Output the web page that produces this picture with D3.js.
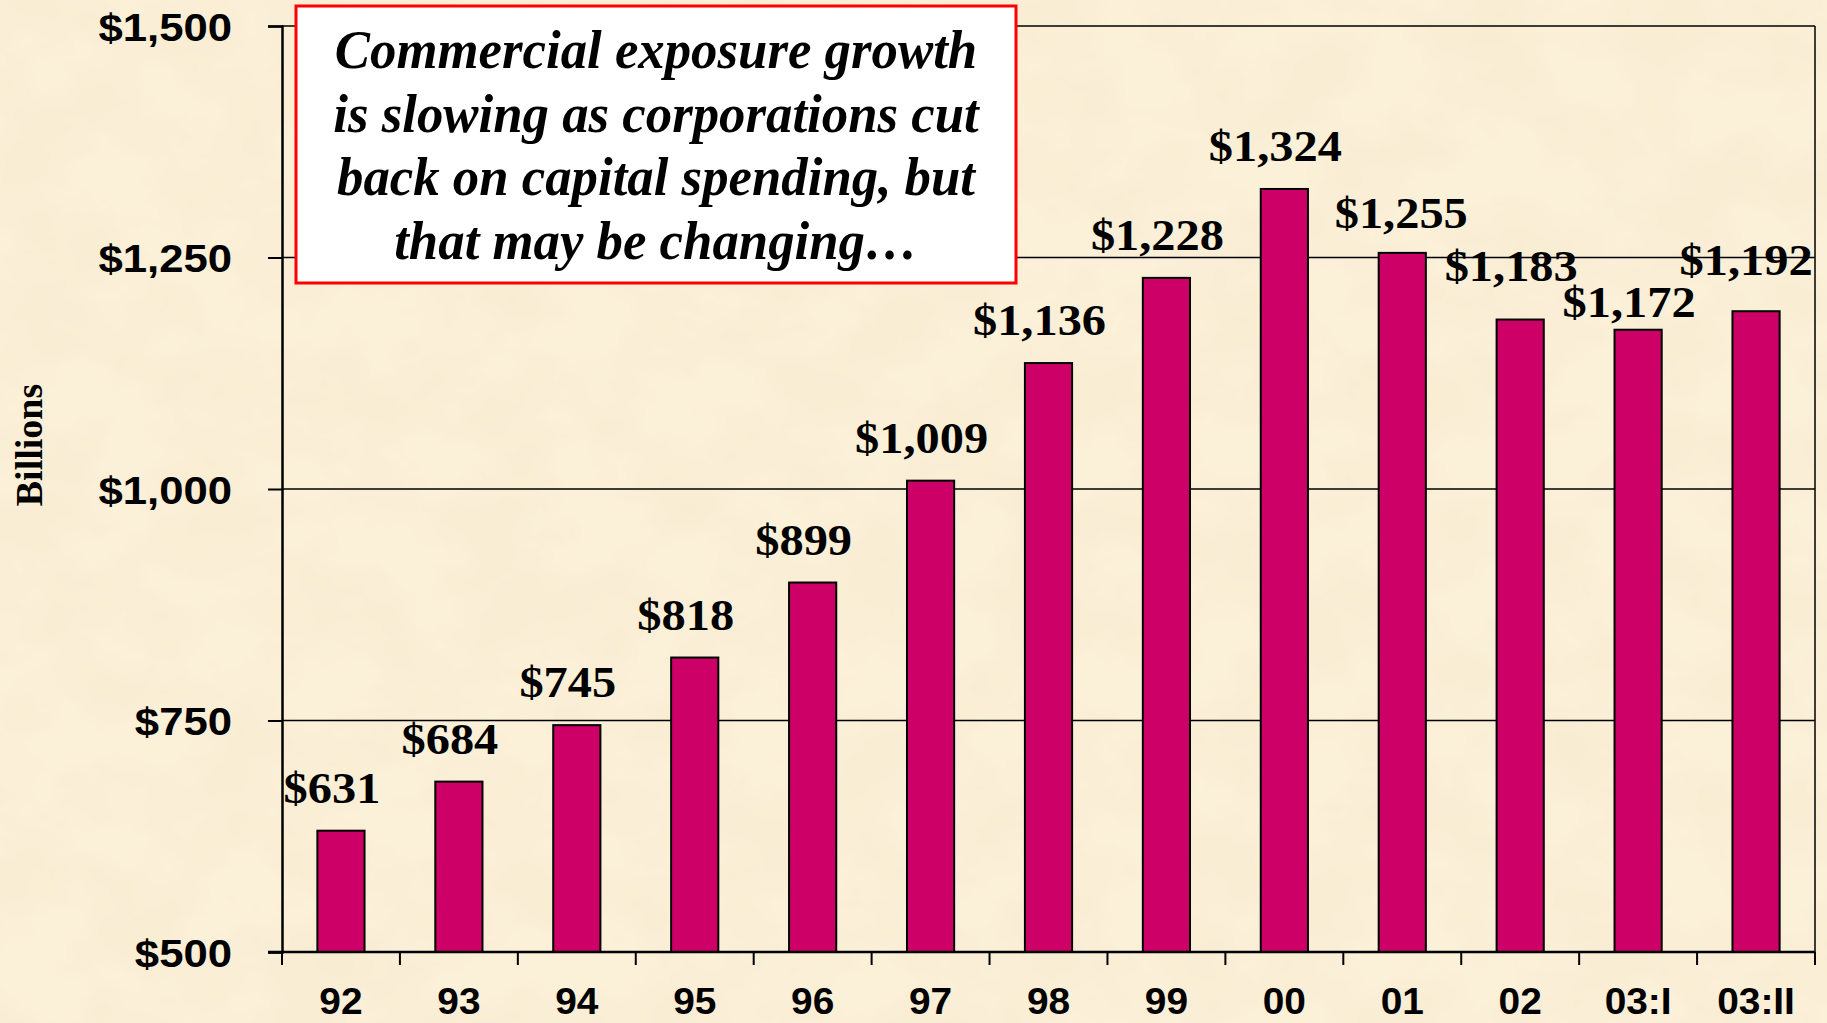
<!DOCTYPE html>
<html>
<head>
<meta charset="utf-8">
<script src="https://cdn.jsdelivr.net/npm/d3@7/dist/d3.min.js"></script>
<style>
  html, body { margin: 0; padding: 0; background: #fbf0d8; }
  svg { display: block; }
</style>
</head>
<body>
<svg id="chart"></svg>
<script>
(function(d3) {
  'use strict';

  // chart values
  var categories = ['92', '93', '94', '95', '96', '97', '98', '99', '00', '01', '02', '03:I', '03:II'];
  var exposure = [631, 684, 745, 818, 899, 1009, 1136, 1228, 1324, 1255, 1183, 1172, 1192];
  var yTicks = [500, 750, 1000, 1250, 1500];
  var yTitle = 'Billions';
  var noteLines = [
    'Commercial exposure growth',
    'is slowing as corporations cut',
    'back on capital spending, but',
    'that may be changing\u2026'
  ];

  var width = 1827, height = 1023;
  var margin = {top : 26, right : 12, bottom : 71, left : 282};
  var sans = '"Liberation Sans", Arial, sans-serif',
      serif = '"Liberation Serif", "Times New Roman", serif';

  // the data labels were dragged around by hand on the original slide
  var defaultNudge = [-9, 28];
  var labelNudge = {'01' : [-1, 25], '02' : [-9, 39], '03:I' : [-9, 13], '03:II' : [-10, 36]};

  var svg = d3.select('#chart').attr('width', width).attr('height', height);

  function drawBackground() {
    var defs = svg.append('defs');
    var f = defs.append('filter').attr('id', 'parchment')
        .attr('x', 0).attr('y', 0).attr('width', '100%').attr('height', '100%');
    f.append('feTurbulence').attr('type', 'fractalNoise')
        .attr('baseFrequency', '0.011 0.014').attr('numOctaves', 4).attr('seed', 7);
    f.append('feColorMatrix').attr('type', 'matrix')
        .attr('values', '0 0 0 0 0.86  0 0 0 0 0.76  0 0 0 0 0.52  0.45 0 0 0 -0.16');

    svg.append('rect').attr('width', width).attr('height', height).attr('fill', '#fbf0d8');
    svg.append('rect').attr('width', width).attr('height', height).attr('filter', 'url(#parchment)');
  }

  function stretched(sel, x, y, sx) {
    return sel.attr('transform', 'translate(' + x + ',' + y + ') scale(' + sx + ',1)');
  }

  function drawChart() {
    var x = d3.scaleBand().domain(categories)
        .range([margin.left, width - margin.right])
        .paddingInner(0.6).paddingOuter(0.3);
    var y = d3.scaleLinear().domain([500, 1500])
        .range([height - margin.bottom, margin.top]);
    var step = x.step(), x0 = margin.left, x1 = width - margin.right;

    // gridlines
    svg.append('g').selectAll('line')
        .data(yTicks.slice(1))
        .join('line')
        .attr('x1', x0).attr('x2', x1)
        .attr('y1', function(d) { return y(d); })
        .attr('y2', function(d) { return y(d); })
        .attr('stroke', '#000').attr('stroke-width', 1.5);

    // right edge of the plot area
    svg.append('line')
        .attr('x1', x1).attr('x2', x1)
        .attr('y1', y(1500)).attr('y2', y(500))
        .attr('stroke', '#000').attr('stroke-width', 1.5);

    // bars
    svg.append('g').selectAll('rect')
        .data(exposure)
        .join('rect')
        .attr('x', function(d, i) { return x(categories[i]); })
        .attr('y', function(d) { return y(d); })
        .attr('width', x.bandwidth())
        .attr('height', function(d) { return y(500) - y(d); })
        .attr('fill', '#cc0066')
        .attr('stroke', '#000').attr('stroke-width', 2);

    // y axis
    var yAxis = svg.append('g')
        .attr('transform', 'translate(' + x0 + ',0)')
        .call(d3.axisLeft(y).tickValues(yTicks).tickSize(14)
            .tickFormat(function(d) { return '$' + d3.format(',')(d); }));
    yAxis.select('.domain').attr('stroke-width', 2.5);
    yAxis.selectAll('.tick line').attr('stroke-width', 2);
    yAxis.selectAll('.tick text').each(function() {
      var t = d3.select(this);
      t.attr('x', null).attr('dy', null)
          .attr('text-anchor', 'end').attr('dominant-baseline', 'central')
          .style('font-family', sans).style('font-weight', 'bold').style('font-size', '39px')
          .attr('fill', '#000');
      stretched(t, -50, 1, 1.12);
    });

    // x axis: labels under bands, ticks on band boundaries
    var xAxis = svg.append('g')
        .attr('transform', 'translate(0,' + y(500) + ')')
        .call(d3.axisBottom(x).tickSize(0).tickSizeOuter(0));
    xAxis.select('.domain').remove();
    xAxis.selectAll('.tick text').each(function() {
      var t = d3.select(this);
      t.attr('y', null).attr('dy', null)
          .style('font-family', sans).style('font-weight', 'bold').style('font-size', '37px')
          .attr('fill', '#000');
      stretched(t, 0, 62, 1.05);
    });

    svg.append('line')
        .attr('x1', x0 - 14).attr('x2', x1)
        .attr('y1', y(500)).attr('y2', y(500))
        .attr('stroke', '#000').attr('stroke-width', 2.5);
    svg.append('g').selectAll('line')
        .data(d3.range(categories.length + 1))
        .join('line')
        .attr('x1', function(i) { return x0 + i * step; })
        .attr('x2', function(i) { return x0 + i * step; })
        .attr('y1', y(500)).attr('y2', y(500) + 13)
        .attr('stroke', '#000').attr('stroke-width', 2);

    // data labels
    svg.append('g').selectAll('text')
        .data(exposure)
        .join('text')
        .attr('text-anchor', 'middle')
        .style('font-family', serif).style('font-weight', 'bold').style('font-size', '44px')
        .attr('fill', '#000')
        .text(function(d) { return '$' + d3.format(',')(d); })
        .each(function(d, i) {
          var n = labelNudge[categories[i]] || defaultNudge;
          stretched(d3.select(this), x(categories[i]) + x.bandwidth() / 2 + n[0], y(d) - n[1], 1.1);
        });

    // axis title
    svg.append('text')
        .attr('transform', 'translate(42,445) rotate(-90)')
        .attr('text-anchor', 'middle')
        .style('font-family', serif).style('font-weight', 'bold').style('font-size', '38px')
        .attr('fill', '#000')
        .text(yTitle);

    // callout box
    var box = {x : 296, y : 6, w : 720, h : 277};
    svg.append('rect')
        .attr('x', box.x).attr('y', box.y).attr('width', box.w).attr('height', box.h)
        .attr('fill', '#fff').attr('stroke', '#ff0000').attr('stroke-width', 3);
    svg.append('g').selectAll('text')
        .data(noteLines)
        .join('text')
        .attr('text-anchor', 'middle')
        .style('font-family', serif).style('font-weight', 'bold').style('font-style', 'italic')
        .style('font-size', '55px')
        .attr('fill', '#000')
        .text(function(d) { return d; })
        .each(function(d, i) {
          stretched(d3.select(this), box.x + box.w / 2, 68 + i * 63.5, 0.96);
        });
  }

  drawBackground();
  drawChart();
})(window.d3);
</script>
</body>
</html>
